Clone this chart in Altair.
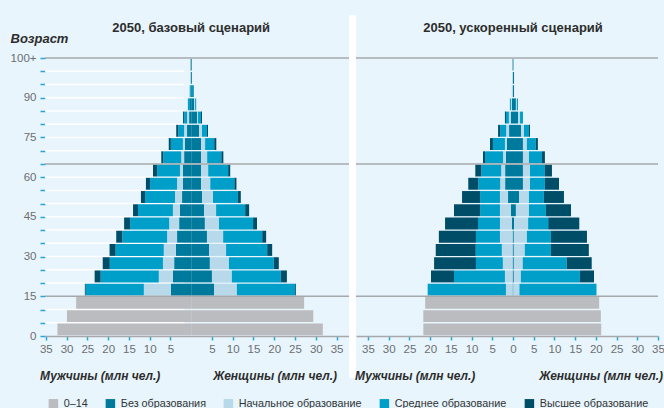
import altair as alt
import pandas as pd

# Five-year age bands (lower bound; 100 stands for "100+")
ADULT_AGES = [15, 20, 25, 30, 35, 40, 45, 50, 55, 60, 65, 70, 75, 80, 85, 90, 95, 100]
CHILD_AGES = [0, 5, 10]

CATEGORIES = ["0–14", "Без образования", "Начальное образование",
              "Среднее образование", "Высшее образование"]
COLORS = ["#bbbcbf", "#007a9c", "#b7d9ea", "#009fc9", "#004d68"]

# 2050, базовый сценарий (млн чел.)
base_child_men = [32.2, 29.9, 27.7]
base_child_women = [31.7, 29.4, 27.2]
base_men_none = [4.9, 4.4, 4.1, 3.7, 3.4, 2.9, 2.7, 2.2, 2.0, 2.0, 1.7, 1.5, 1.0, 0.5, 0.3, 0.1, 0.1, 0.15]
base_men_primary = [6.5, 3.4, 2.7, 2.9, 2.4, 2.4, 1.7, 1.7, 1.4, 0.7, 0.7, 0.5, 0.7, 0.5, 0.0, 0.0, 0.0, 0.1]
base_men_secondary = [14.0, 14.0, 12.8, 11.6, 10.8, 9.4, 8.4, 7.2, 6.5, 5.5, 4.3, 2.9, 1.4, 0.7, 0.5, 0.25, 0.0, 0.0]
base_men_higher = [0.2, 1.45, 1.7, 1.45, 1.45, 1.45, 1.2, 1.0, 1.0, 1.0, 0.5, 0.5, 0.5, 0.25, 0.0, 0.0, 0.0, 0.0]
base_women_none = [5.5, 5.0, 4.5, 4.3, 3.8, 3.3, 3.1, 2.6, 2.4, 2.4, 2.4, 2.4, 1.9, 1.4, 0.7, 0.4, 0.2, 0.15]
base_women_primary = [5.5, 4.8, 4.6, 4.1, 3.9, 3.4, 2.9, 2.65, 2.2, 1.7, 1.45, 0.95, 0.7, 0.25, 0.25, 0.0, 0.0, 0.0]
base_women_secondary = [14.0, 11.8, 10.8, 9.9, 9.4, 8.2, 7.0, 6.0, 5.8, 4.8, 3.4, 2.2, 1.2, 0.7, 0.25, 0.25, 0.0, 0.0]
base_women_higher = [0.2, 1.45, 1.2, 1.2, 0.95, 0.95, 0.95, 0.7, 0.5, 0.5, 0.5, 0.5, 0.25, 0.25, 0.0, 0.0, 0.0, 0.0]

# 2050, ускоренный сценарий (млн чел.)
acc_child_men = [21.65, 21.65, 21.2]
acc_child_women = [21.3, 21.2, 20.8]
acc_men_none = [0.1, 0.1, 0.1, 0.1, 0.1, 0.25, 0.5, 1.2, 1.9, 1.9, 1.7, 1.45, 0.95, 0.5, 0.25, 0.05, 0.05, 0.1]
acc_men_primary = [1.6, 1.85, 2.35, 2.6, 3.05, 2.9, 2.65, 1.95, 1.2, 0.95, 0.7, 0.5, 0.7, 0.5, 0.25, 0.25, 0.0, 0.0]
acc_men_secondary = [18.9, 12.3, 6.5, 6.3, 5.8, 5.3, 4.8, 4.8, 5.3, 4.8, 4.35, 2.9, 1.45, 0.7, 0.25, 0.0, 0.0, 0.0]
acc_men_higher = [0.0, 5.55, 10.1, 9.65, 8.95, 7.95, 6.3, 4.35, 2.4, 1.45, 0.5, 0.7, 0.5, 0.25, 0.0, 0.0, 0.0, 0.0]
acc_women_none = [0.1, 0.2, 0.2, 0.2, 0.2, 0.25, 0.7, 1.45, 2.4, 2.4, 2.4, 2.4, 1.95, 1.2, 0.7, 0.25, 0.25, 0.1]
acc_women_primary = [1.45, 1.7, 2.15, 2.65, 3.15, 3.4, 3.15, 2.4, 1.7, 1.7, 1.45, 0.95, 0.7, 0.5, 0.25, 0.0, 0.0, 0.0]
acc_women_secondary = [18.6, 14.25, 10.6, 6.3, 5.8, 4.85, 4.1, 3.6, 3.6, 3.6, 3.15, 2.15, 1.2, 0.7, 0.25, 0.0, 0.0, 0.0]
acc_women_higher = [0.0, 3.4, 6.05, 9.15, 8.7, 7.5, 6.05, 4.85, 3.4, 1.7, 0.7, 0.5, 0.25, 0.0, 0.0, 0.0, 0.0, 0.0]

# Horizontal separators (age boundaries) and background grid of the first panel
SEPARATOR_AGES = [15, 65, 105]
GRID_AGES = [5, 10, 20, 25, 30, 35, 40, 45, 50, 55, 60, 70, 75, 80, 85, 90, 95, 100]

LEFT_TICKS = [-35, -30, -25, -20, -15, -10, -5, 5, 10, 15, 20, 25, 30, 35]
RIGHT_TICKS = [-35, -30, -25, -20, -15, -10, -5, 0, 5, 10, 15, 20, 25, 30, 35]

FONT = "Liberation Sans, Arial, sans-serif"
BG = "#e8f5fc"
TICK_BLUE = "#27a6dc"
RULE_GREY = "#a6a8ab"
LABEL_GREY = "#6d6e71"
DARK = "#2d2d2d"

W_LEFT = 304
GAP = 7
W_RIGHT = 302
WIDTH = W_LEFT + GAP + W_RIGHT
HEIGHT = 278


def pyramid_frame(child_men, child_women, men, women):
    rows = []
    for age, m, f in zip(CHILD_AGES, child_men, child_women):
        rows.append(dict(age=age, sex="М", category=CATEGORIES[0], order=0, value=-m))
        rows.append(dict(age=age, sex="Ж", category=CATEGORIES[0], order=0, value=f))
    for k, (m_series, f_series) in enumerate(zip(men, women), start=1):
        for age, m, f in zip(ADULT_AGES, m_series, f_series):
            rows.append(dict(age=age, sex="М", category=CATEGORIES[k], order=k, value=-m))
            rows.append(dict(age=age, sex="Ж", category=CATEGORIES[k], order=k, value=f))
    return pd.DataFrame(rows)


base_df = pyramid_frame(
    base_child_men, base_child_women,
    [base_men_none, base_men_primary, base_men_secondary, base_men_higher],
    [base_women_none, base_women_primary, base_women_secondary, base_women_higher],
)
acc_df = pyramid_frame(
    acc_child_men, acc_child_women,
    [acc_men_none, acc_men_primary, acc_men_secondary, acc_men_higher],
    [acc_women_none, acc_women_primary, acc_women_secondary, acc_women_higher],
)

Y_SCALE = alt.Scale(domain=[0, 105], nice=False, zero=True)

color_enc = alt.Color(
    "category:N",
    scale=alt.Scale(domain=CATEGORIES, range=COLORS),
    legend=alt.Legend(
        orient="none", legendX=3, legendY=340, direction="horizontal", columns=5,
        title=None, symbolType="square", symbolSize=90, symbolStrokeWidth=0,
        labelFont=FONT, labelFontSize=10.8, labelColor="#333333", labelOffset=5,
        columnPadding=17, padding=0, labelLimit=200,
    ),
)

# One shared age axis; every layer that encodes y refers to it
y_axis = alt.Axis(
    values=list(range(0, 110, 5)),
    labelExpr="datum.value == 105 ? '100+' : (datum.value % 15 == 0 ? datum.label : '')",
    title="Возраст", titleAngle=0, titleAlign="left", titleBaseline="middle",
    titleX=-35, titleY=-20, titleFont=FONT, titleFontSize=13, titleFontWeight="bold",
    titleFontStyle="italic", titleColor=DARK,
    tickColor=TICK_BLUE, tickSize=5, tickWidth=1.5,
    labelColor=LABEL_GREY, labelFont=FONT, labelFontSize=11.5, labelPadding=4,
    domain=False, grid=False, orient="left",
)


def x_axis(ticks):
    return alt.Axis(
        orient="bottom", values=ticks, labelExpr="'' + abs(datum.value)", title=None,
        grid=False, domainColor=RULE_GREY, domainWidth=1.5,
        tickColor=TICK_BLUE, tickSize=4, tickWidth=1.5, labelFlush=False,
        labelOverlap=False, labelColor=LABEL_GREY, labelFont=FONT, labelFontSize=11.5,
        labelPadding=3,
    )


def panel(df, heading, x_scale, ticks, grid=False):
    xa = x_axis(ticks)
    layers = []
    if grid:
        grid_df = pd.DataFrame({"b": GRID_AGES, "lo": [x_scale.domain[0]] * len(GRID_AGES),
                                "hi": [-1.7] * len(GRID_AGES)})
        layers.append(
            alt.Chart(grid_df).mark_rule(color="white", strokeWidth=1.5).encode(
                x=alt.X("lo:Q", scale=x_scale, axis=xa),
                x2="hi:Q",
                y=alt.Y("b:Q", scale=Y_SCALE, axis=y_axis),
            )
        )
    bars = (
        alt.Chart(df)
        .transform_stack(
            stack="value", groupby=["age", "sex"],
            sort=[alt.SortField(field="order", order="ascending")], as_=["x0", "x1"],
        )
        .transform_calculate(y0="datum.age + 0.25", y1="datum.age + 4.75")
        .mark_bar(strokeWidth=0)
        .encode(
            x=alt.X("x0:Q", scale=x_scale, axis=xa),
            x2="x1:Q",
            y=alt.Y("y0:Q", scale=Y_SCALE, axis=y_axis),
            y2="y1:Q",
            color=color_enc,
        )
    )
    layers.append(bars)
    layers.append(
        alt.Chart(pd.DataFrame({"label": [heading], "x": [0]}))
        .mark_text(font=FONT, fontSize=13, fontWeight="bold", color=DARK,
                   align="center", baseline="middle")
        .encode(x=alt.X("x:Q", scale=x_scale, axis=xa), y=alt.value(-30), text="label:N")
    )
    return alt.layer(*layers)


left = panel(
    base_df, "2050, базовый сценарий",
    alt.Scale(domain=[-35.2, 38.0], range=[0, W_LEFT], nice=False, zero=False),
    LEFT_TICKS, grid=True,
)
right = panel(
    acc_df, "2050, ускоренный сценарий",
    alt.Scale(domain=[-37.9, 35.0], range=[W_LEFT + GAP, WIDTH], nice=False, zero=False),
    RIGHT_TICKS,
)

separators = alt.Chart(pd.DataFrame({"y": SEPARATOR_AGES})).mark_rule(
    color=RULE_GREY, strokeWidth=1.5
).encode(y=alt.Y("y:Q", scale=Y_SCALE, axis=y_axis))

# White strip between the two panels
strip = alt.Chart(pd.DataFrame({"s": [0]})).mark_rule(color="white", strokeWidth=GAP).encode(
    x=alt.value(W_LEFT + GAP / 2), y=alt.value(-43), y2=alt.value(HEIGHT + 42)
)


def axis_caption(text, x, align):
    return alt.Chart(pd.DataFrame({"label": [text]})).mark_text(
        font=FONT, fontSize=12, fontWeight="bold", fontStyle="italic", color=DARK,
        align=align, baseline="middle",
    ).encode(x=alt.value(x), y=alt.value(HEIGHT + 40), text="label:N")


MEN = "Мужчины (млн чел.)"
WOMEN = "Женщины (млн чел.)"

chart = (
    alt.layer(
        left, right, separators, strip,
        axis_caption(MEN, -5, "left"),
        axis_caption(WOMEN, W_LEFT - 12, "right"),
        axis_caption(MEN, W_LEFT + GAP - 1, "left"),
        axis_caption(WOMEN, WIDTH + 5, "right"),
    )
    .resolve_scale(x="independent")
    .properties(
        width=WIDTH, height=HEIGHT,
        autosize=alt.AutoSizeParams(type="none"),
        padding={"left": 45, "top": 58, "right": 6, "bottom": 72},
        background=BG,
    )
    .configure_view(stroke=None, fill=BG)
)

chart.save("out.html", embed_options={"renderer": "svg", "actions": False})
